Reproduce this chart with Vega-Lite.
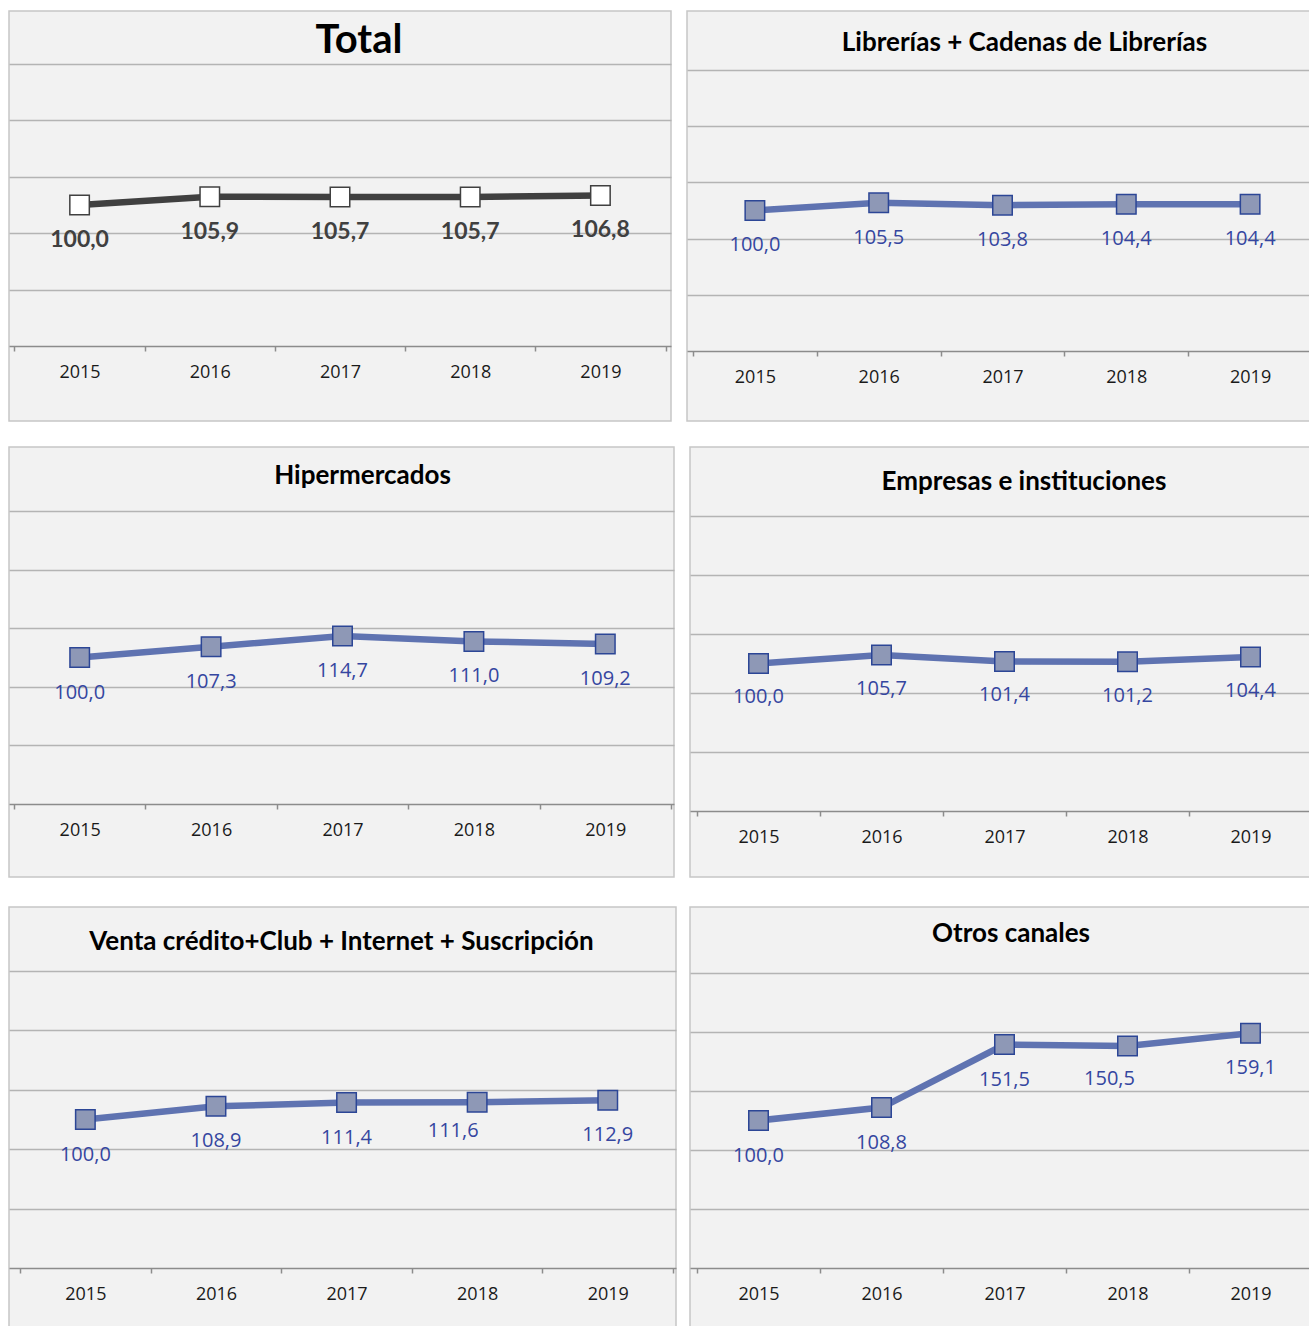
{
  "$schema": "https://vega.github.io/schema/vega-lite/v6.json",
  "padding": {"left": 8, "top": 10, "right": 0, "bottom": 0},
  "background": "white",
  "data": {"values": [
    {"panel": "Total", "year": 2015, "value": 100.0},
    {"panel": "Total", "year": 2016, "value": 105.9},
    {"panel": "Total", "year": 2017, "value": 105.7},
    {"panel": "Total", "year": 2018, "value": 105.7},
    {"panel": "Total", "year": 2019, "value": 106.8},
    {"panel": "Librerias", "year": 2015, "value": 100.0},
    {"panel": "Librerias", "year": 2016, "value": 105.5},
    {"panel": "Librerias", "year": 2017, "value": 103.8},
    {"panel": "Librerias", "year": 2018, "value": 104.4},
    {"panel": "Librerias", "year": 2019, "value": 104.4},
    {"panel": "Hiper", "year": 2015, "value": 100.0},
    {"panel": "Hiper", "year": 2016, "value": 107.3},
    {"panel": "Hiper", "year": 2017, "value": 114.7},
    {"panel": "Hiper", "year": 2018, "value": 111.0},
    {"panel": "Hiper", "year": 2019, "value": 109.2},
    {"panel": "Empresas", "year": 2015, "value": 100.0},
    {"panel": "Empresas", "year": 2016, "value": 105.7},
    {"panel": "Empresas", "year": 2017, "value": 101.4},
    {"panel": "Empresas", "year": 2018, "value": 101.2},
    {"panel": "Empresas", "year": 2019, "value": 104.4},
    {"panel": "Venta", "year": 2015, "value": 100.0},
    {"panel": "Venta", "year": 2016, "value": 108.9},
    {"panel": "Venta", "year": 2017, "value": 111.4},
    {"panel": "Venta", "year": 2018, "value": 111.6},
    {"panel": "Venta", "year": 2019, "value": 112.9},
    {"panel": "Otros", "year": 2015, "value": 100.0},
    {"panel": "Otros", "year": 2016, "value": 108.8},
    {"panel": "Otros", "year": 2017, "value": 151.5},
    {"panel": "Otros", "year": 2018, "value": 150.5},
    {"panel": "Otros", "year": 2019, "value": 159.1}
  ]},
  "spacing": 24,
  "vconcat": [
    {
      "spacing": 14,
      "hconcat": [
        {
          "width": 662, "height": 410,
          "title": {"text": "Total", "frame": "group", "anchor": "middle", "baseline": "middle", "offset": -70, "dx": 19, "fontSize": 40, "font": "Lato", "fontWeight": "bold", "color": "#000000"},
          "transform": [{"filter": "datum.panel == 'Total'"}],
          "encoding": {
            "x": {"field": "year", "type": "ordinal", "bandPosition": 0.5, "scale": {"type": "band", "paddingInner": 0, "paddingOuter": 0.042, "align": 0.5}, "axis": {"offset": -75}},
            "y": {"field": "value", "type": "quantitative", "scale": {"domain": [-53.19, 237.59], "nice": false, "zero": false}, "axis": {"values": [40, 80, 120, 160, 200]}}
          },
          "layer": [
            {"mark": {"type": "line", "color": "#404040", "strokeWidth": 6.5}},
            {"mark": {"type": "point", "shape": "square", "filled": true, "fill": "#ffffff", "stroke": "#404040", "strokeWidth": 1.5, "size": 380, "opacity": 1}},
            {"mark": {"type": "text", "dy": 35, "baseline": "middle", "font": "Lato", "fontSize": 23, "fontWeight": "bold", "color": "#404040"}, "encoding": {"text": {"field": "value", "type": "quantitative", "format": ".1f"}}}
          ]
        },
        {
          "width": 625, "height": 410,
          "title": {"text": "Librerías + Cadenas de Librerías", "frame": "group", "anchor": "middle", "baseline": "middle", "offset": -58, "dx": 25, "fontSize": 26, "font": "Lato", "fontWeight": "bold", "color": "#000000"},
          "transform": [{"filter": "datum.panel == 'Librerias'"}],
          "encoding": {
            "x": {"field": "year", "type": "ordinal", "bandPosition": 0.5, "scale": {"type": "band", "paddingInner": 0, "paddingOuter": 0.0242, "align": 1}, "axis": {"offset": -70}},
            "y": {"field": "value", "type": "quantitative", "scale": {"domain": [-49.82, 241.99], "nice": false, "zero": false}, "axis": {"values": [40, 80, 120, 160, 200]}}
          },
          "layer": [
            {"mark": {"type": "line", "color": "#5f73b1", "strokeWidth": 6.5}},
            {"mark": {"type": "point", "shape": "square", "filled": true, "fill": "#8e98b6", "stroke": "#2c4696", "strokeWidth": 1.5, "size": 380, "opacity": 1}},
            {"mark": {"type": "text", "dy": 35, "baseline": "middle", "font": "Open Sans", "fontSize": 20, "color": "#3546a0"}, "encoding": {"text": {"field": "value", "type": "quantitative", "format": ".1f"}}}
          ]
        }
      ]
    },
    {
      "spacing": 28,
      "vconcat": [
        {
          "spacing": 14,
          "hconcat": [
            {
              "width": 665, "height": 430,
              "title": {"text": "Hipermercados", "frame": "group", "anchor": "middle", "baseline": "middle", "offset": -55, "dx": 21, "fontSize": 26, "font": "Lato", "fontWeight": "bold", "color": "#000000"},
              "transform": [{"filter": "datum.panel == 'Hiper'"}],
              "encoding": {
                "x": {"field": "year", "type": "ordinal", "bandPosition": 0.5, "scale": {"type": "band", "paddingInner": 0, "paddingOuter": 0.0304, "align": 0.625}, "axis": {"offset": -73}},
                "y": {"field": "value", "type": "quantitative", "scale": {"domain": [-49.83, 243.69], "nice": false, "zero": false}, "axis": {"values": [40, 80, 120, 160, 200]}}
              },
              "layer": [
                {"mark": {"type": "line", "color": "#5f73b1", "strokeWidth": 6.5}},
                {"mark": {"type": "point", "shape": "square", "filled": true, "fill": "#8e98b6", "stroke": "#2c4696", "strokeWidth": 1.5, "size": 380, "opacity": 1}},
                {"mark": {"type": "text", "dy": 35, "baseline": "middle", "font": "Open Sans", "fontSize": 20, "color": "#3546a0"}, "encoding": {"text": {"field": "value", "type": "quantitative", "format": ".1f"}}}
              ]
            },
            {
              "width": 622, "height": 430,
              "title": {"text": "Empresas e instituciones", "frame": "group", "anchor": "middle", "baseline": "middle", "offset": -61, "dx": 23, "fontSize": 26, "font": "Lato", "fontWeight": "bold", "color": "#000000"},
              "transform": [{"filter": "datum.panel == 'Empresas'"}],
              "encoding": {
                "x": {"field": "year", "type": "ordinal", "bandPosition": 0.5, "scale": {"type": "band", "paddingInner": 0, "paddingOuter": 0.0285, "align": 1}, "axis": {"offset": -66}},
                "y": {"field": "value", "type": "quantitative", "scale": {"domain": [-44.75, 246.78], "nice": false, "zero": false}, "axis": {"values": [40, 80, 120, 160, 200]}}
              },
              "layer": [
                {"mark": {"type": "line", "color": "#5f73b1", "strokeWidth": 6.5}},
                {"mark": {"type": "point", "shape": "square", "filled": true, "fill": "#8e98b6", "stroke": "#2c4696", "strokeWidth": 1.5, "size": 380, "opacity": 1}},
                {"mark": {"type": "text", "dy": 34, "baseline": "middle", "font": "Open Sans", "fontSize": 20, "color": "#3546a0"}, "encoding": {"text": {"field": "value", "type": "quantitative", "format": ".1f"}}}
              ]
            }
          ]
        },
        {
          "spacing": 12,
          "hconcat": [
            {
              "width": 667, "height": 424,
              "title": {"text": "Venta crédito+Club + Internet + Suscripción", "frame": "group", "anchor": "middle", "baseline": "middle", "offset": -61, "dx": -1, "fontSize": 26, "font": "Lato", "fontWeight": "bold", "color": "#000000"},
              "transform": [{"filter": "datum.panel == 'Venta'"}],
              "encoding": {
                "x": {"field": "year", "type": "ordinal", "bandPosition": 0.5, "scale": {"type": "band", "paddingInner": 0, "paddingOuter": 0.0536, "align": 0.79}, "axis": {"offset": -63}},
                "y": {"field": "value", "type": "quantitative", "scale": {"domain": [-42.42, 243.10], "nice": false, "zero": false}, "axis": {"values": [40, 80, 120, 160, 200]}}
              },
              "layer": [
                {"mark": {"type": "line", "color": "#5f73b1", "strokeWidth": 6.5}},
                {"mark": {"type": "point", "shape": "square", "filled": true, "fill": "#8e98b6", "stroke": "#2c4696", "strokeWidth": 1.5, "size": 380, "opacity": 1}},
                {"transform": [{"filter": "datum.year != 2018"}], "mark": {"type": "text", "dy": 35, "baseline": "middle", "font": "Open Sans", "fontSize": 20, "color": "#3546a0"}, "encoding": {"text": {"field": "value", "type": "quantitative", "format": ".1f"}}},
                {"transform": [{"filter": "datum.year == 2018"}], "mark": {"type": "text", "dy": 29, "dx": -24, "baseline": "middle", "font": "Open Sans", "fontSize": 20, "color": "#3546a0"}, "encoding": {"text": {"field": "value", "type": "quantitative", "format": ".1f"}}}
              ]
            },
            {
              "width": 622, "height": 424,
              "title": {"text": "Otros canales", "frame": "group", "anchor": "middle", "baseline": "middle", "offset": -53, "dx": 10, "fontSize": 26, "font": "Lato", "fontWeight": "bold", "color": "#000000"},
              "transform": [{"filter": "datum.panel == 'Otros'"}],
              "encoding": {
                "x": {"field": "year", "type": "ordinal", "bandPosition": 0.5, "scale": {"type": "band", "paddingInner": 0, "paddingOuter": 0.0285, "align": 1}, "axis": {"offset": -63}},
                "y": {"field": "value", "type": "quantitative", "scale": {"domain": [-42.71, 244.75], "nice": false, "zero": false}, "axis": {"values": [40, 80, 120, 160, 200]}}
              },
              "layer": [
                {"mark": {"type": "line", "color": "#5f73b1", "strokeWidth": 6.5}},
                {"mark": {"type": "point", "shape": "square", "filled": true, "fill": "#8e98b6", "stroke": "#2c4696", "strokeWidth": 1.5, "size": 380, "opacity": 1}},
                {"transform": [{"filter": "datum.year != 2018"}], "mark": {"type": "text", "dy": 35, "baseline": "middle", "font": "Open Sans", "fontSize": 20, "color": "#3546a0"}, "encoding": {"text": {"field": "value", "type": "quantitative", "format": ".1f"}}},
                {"transform": [{"filter": "datum.year == 2018"}], "mark": {"type": "text", "dy": 33, "dx": -18, "baseline": "middle", "font": "Open Sans", "fontSize": 20, "color": "#3546a0"}, "encoding": {"text": {"field": "value", "type": "quantitative", "format": ".1f"}}}
              ]
            }
          ]
        }
      ]
    }
  ],
  "config": {
    "locale": {"number": {"decimal": ",", "thousands": ".", "grouping": [3], "currency": ["", " €"]}},
    "view": {"fill": "#f2f2f2", "stroke": "#c6c6c6", "strokeWidth": 1.5},
    "axisX": {"title": null, "labelAngle": 0, "grid": false, "tickBand": "extent", "domainColor": "#8c8c8c", "domainWidth": 1.5, "tickColor": "#8c8c8c", "tickWidth": 1.5, "tickSize": 5, "labelFont": "Open Sans", "labelFontSize": 18, "labelColor": "#1a1a1a", "labelPadding": 12},
    "axisY": {"title": null, "grid": true, "gridColor": "#b4b4b4", "gridWidth": 1.5, "labels": false, "ticks": false, "domain": false}
  }
}
